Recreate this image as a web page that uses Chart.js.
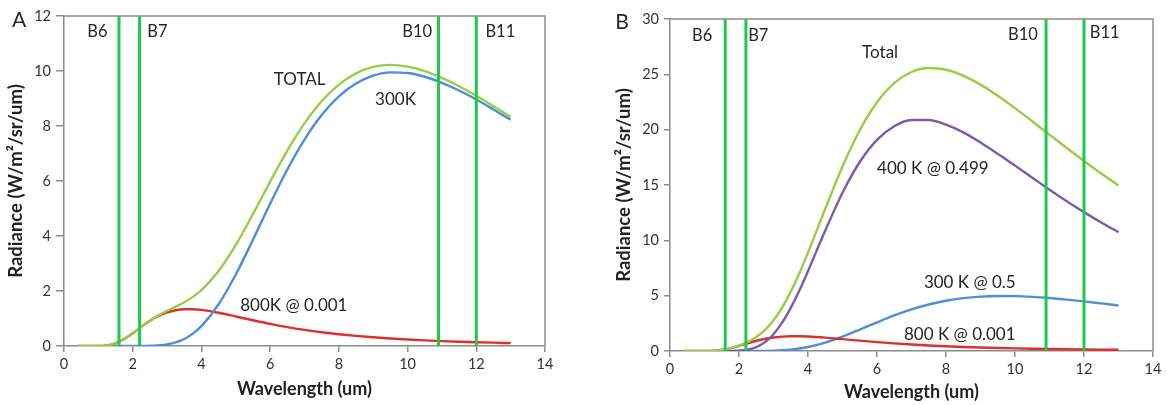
<!DOCTYPE html>
<html>
<head>
<meta charset="utf-8">
<script src="https://cdn.jsdelivr.net/npm/chart.js@4.4.1/dist/chart.umd.min.js"></script>
<style>
  html, body { margin: 0; padding: 0; background: #fff; }
  #wrap { position: relative; width: 1167px; height: 405px; }
  #chartA { position: absolute; left: 0; top: 0; }
  #chartB { position: absolute; left: 590px; top: 0; }
</style>
</head>
<body>
<div id="wrap">
  <canvas id="chartA" width="590" height="405"></canvas>
  <canvas id="chartB" width="577" height="405"></canvas>
</div>
<script>
// wavelength (um) sample points
const wavelength = [0.4, 0.6, 0.8, 1.0, 1.2, 1.4, 1.6, 1.8, 2.0, 2.2, 2.4, 2.6, 2.8, 3.0, 3.25, 3.5, 3.75, 4.0,
  4.5, 5.0, 5.5, 6.0, 6.5, 7.0, 7.5, 8.0, 8.5, 9.0, 9.5, 10, 10.5, 11, 11.5, 12, 12.5, 13];

// 800K @ 0.001 (same in both panels)
const rad800 = [0, 0, 0, 0.002, 0.015, 0.058, 0.149, 0.289, 0.463, 0.651, 0.833, 0.994, 1.126, 1.224, 1.302, 1.338, 1.338, 1.312,
  1.208, 1.074, 0.935, 0.804, 0.688, 0.588, 0.502, 0.429, 0.368, 0.317, 0.273, 0.236, 0.205, 0.179, 0.157, 0.138, 0.121, 0.107];

// panel A
const rad300A = [null, null, null, null, null, null, 0, 0, 0, 0.001, 0.003, 0.010, 0.025, 0.056, 0.128, 0.254, 0.449, 0.722,
  1.519, 2.602, 3.865, 5.173, 6.42, 7.507, 8.397, 9.076, 9.546, 9.83, 9.95, 9.925, 9.79, 9.57, 9.29, 8.963, 8.60, 8.226];
const totalA = [0, 0, 0, 0.002, 0.015, 0.058, 0.149, 0.289, 0.463, 0.652, 0.836, 1.004, 1.151, 1.280, 1.430, 1.592, 1.787, 2.034,
  2.727, 3.676, 4.800, 5.977, 7.108, 8.095, 8.899, 9.505, 9.914, 10.147, 10.223, 10.161, 9.995, 9.749, 9.447, 9.101, 8.721, 8.333];

// panel B
const rad400B = [null, null, null, null, null, null, 0.001, 0.007, 0.029, 0.092, 0.232, 0.491, 0.911, 1.519, 2.557, 3.90, 5.47, 7.22,
  10.88, 14.30, 17.08, 19.08, 20.31, 20.87, 20.87, 20.45, 19.75, 18.84, 17.82, 16.75, 15.66, 14.58, 13.54, 12.55, 11.61, 10.74];
const rad300B = [null, null, null, null, null, null, 0, 0, 0, 0, 0.002, 0.005, 0.013, 0.028, 0.064, 0.127, 0.225, 0.361,
  0.760, 1.301, 1.933, 2.587, 3.210, 3.754, 4.199, 4.538, 4.773, 4.915, 4.975, 4.963, 4.895, 4.785, 4.645, 4.482, 4.300, 4.113];
const totalB = [0, 0, 0, 0.002, 0.015, 0.058, 0.150, 0.296, 0.492, 0.743, 1.067, 1.490, 2.050, 2.771, 3.923, 5.365, 7.033, 8.893,
  12.848, 16.675, 19.948, 22.471, 24.208, 25.212, 25.571, 25.417, 24.891, 24.072, 23.068, 21.949, 20.760, 19.544, 18.342, 17.170, 16.031, 14.960];

// Landsat bands
const bandX = [1.6, 2.2, 10.9, 12.0];
const bandNames = ['B6', 'B7', 'B10', 'B11'];

const C_TOTAL = '#95cf45';
const C_300 = '#4f8fd6';
const C_800 = '#de2f2c';
const C_400 = '#7d5ba6';
const C_BAND = '#1fc94f';
const C_AXIS = '#8c8c8c';

function toPoints(arr) {
    return wavelength.map((x, i) => ({ x: x, y: arr[i] })).filter(p => p.y !== null);
}

// lower order is drawn on top
function curve(arr, color, order) {
    return {
        data: toPoints(arr),
        borderColor: color,
        borderWidth: 2.4,
        pointRadius: 0,
        cubicInterpolationMode: 'monotone',
        order: order
    };
}

function bands(yMax) {
    return bandX.map(x => ({
        data: [{ x: x, y: 0 }, { x: x, y: yMax }],
        borderColor: C_BAND,
        borderWidth: 3,
        pointRadius: 0,
        order: 0
    }));
}

// text, frame and panel letter
const extras = {
    id: 'extras',
    afterDatasetsDraw(chart, args, opts) {
        const { ctx, chartArea: a, scales: { x, y } } = chart;
        ctx.save();
        ctx.strokeStyle = C_AXIS;
        ctx.lineWidth = 1.5;
        ctx.beginPath();
        ctx.moveTo(a.left, a.top);
        ctx.lineTo(a.right, a.top);
        ctx.lineTo(a.right, a.bottom);
        ctx.stroke();

        ctx.fillStyle = '#262626';
        ctx.textAlign = 'center';
        ctx.textBaseline = 'middle';
        opts.notes.forEach(n => {
            ctx.font = n.font;
            ctx.fillText(n.text, x.getPixelForValue(n.x), y.getPixelForValue(n.y));
        });
        ctx.font = '21px Lato';
        ctx.fillText(opts.letter, opts.letterX, opts.letterY);
        ctx.restore();
    }
};

function axes(yMax, yStep, yWidth, yTitlePad, xHeight, xTitlePad, tl) {
    return {
        x: {
            type: 'linear', min: 0, max: 14,
            ticks: { stepSize: 2, color: '#333', font: { size: 14.5 }, padding: 4 },
            grid: { drawOnChartArea: false, drawTicks: true, tickLength: 6, color: C_AXIS, lineWidth: 1.5 },
            border: { color: C_AXIS, width: 1.5 },
            title: { display: true, text: 'Wavelength (um)', color: '#222', font: { size: 18, weight: 'bold' }, padding: { top: 0, bottom: xTitlePad } },
            afterFit: s => { s.height = xHeight; }
        },
        y: {
            min: 0, max: yMax,
            ticks: { stepSize: yStep, color: '#333', font: { size: 14.5 }, padding: 5 },
            grid: { drawOnChartArea: false, drawTicks: true, tickLength: tl, color: C_AXIS, lineWidth: 1.5 },
            border: { color: C_AXIS, width: 1.5 },
            title: { display: true, text: 'Radiance (W/m²/sr/um)', color: '#222', font: { size: 18.5, weight: 'bold' }, padding: { top: yTitlePad, bottom: 0 } },
            afterFit: s => { s.width = yWidth; }
        }
    };
}

function draw() {
    Chart.defaults.font.family = 'Lato';
    Chart.defaults.animation = false;

    new Chart(document.getElementById('chartA'), {
        type: 'line',
        data: {
            datasets: bands(12).concat([
                curve(totalA, C_TOTAL, 1),
                curve(rad300A, C_300, 2),
                curve(rad800, C_800, 3)
            ])
        },
        options: {
            responsive: false,
            devicePixelRatio: 1,
            layout: { padding: { top: 16, right: 45, left: 0, bottom: 0 } },
            scales: axes(12, 2, 64, 5, 59, 5, 8),
            plugins: {
                legend: { display: false },
                tooltip: { enabled: false },
                extras: {
                    letter: 'A', letterX: 19, letterY: 20,
                    notes: [
                        { text: 'B6', x: 0.97, y: 11.43, font: '16.5px Lato' },
                        { text: 'B7', x: 2.72, y: 11.43, font: '16.5px Lato' },
                        { text: 'B10', x: 10.28, y: 11.43, font: '16.5px Lato' },
                        { text: 'B11', x: 12.7, y: 11.43, font: '16.5px Lato' },
                        { text: 'TOTAL', x: 6.86, y: 9.7, font: '17px Lato' },
                        { text: '300K', x: 9.65, y: 8.96, font: '17px Lato' },
                        { text: '800K @ 0.001', x: 6.69, y: 1.49, font: '17px Lato' }
                    ]
                }
            }
        },
        plugins: [extras]
    });

    new Chart(document.getElementById('chartB'), {
        type: 'line',
        data: {
            datasets: bands(30).concat([
                curve(totalB, C_TOTAL, 1),
                curve(rad400B, C_400, 2),
                curve(rad800, C_800, 3),
                curve(rad300B, C_300, 4)
            ])
        },
        options: {
            responsive: false,
            devicePixelRatio: 1,
            layout: { padding: { top: 19, right: 14, left: 0, bottom: 0 } },
            scales: axes(30, 5, 80, 23, 54, 2, 6),
            plugins: {
                legend: { display: false },
                tooltip: { enabled: false },
                extras: {
                    letter: 'B', letterX: 32, letterY: 22,
                    notes: [
                        { text: 'B6', x: 0.93, y: 28.5, font: '16.5px Lato' },
                        { text: 'B7', x: 2.56, y: 28.5, font: '16.5px Lato' },
                        { text: 'B10', x: 10.23, y: 28.6, font: '16.5px Lato' },
                        { text: 'B11', x: 12.6, y: 28.8, font: '16.5px Lato' },
                        { text: 'Total', x: 6.09, y: 27.0, font: '17px Lato' },
                        { text: '400 K @ 0.499', x: 7.62, y: 16.5, font: '17px Lato' },
                        { text: '300 K @ 0.5', x: 8.69, y: 6.23, font: '17px Lato' },
                        { text: '800 K @ 0.001', x: 8.4, y: 1.45, font: '17px Lato' }
                    ]
                }
            }
        },
        plugins: [extras]
    });
}

Promise.all([
    document.fonts.load('14px Lato'),
    document.fonts.load('bold 18px Lato')
]).then(draw, draw);
</script>
</body>
</html>
